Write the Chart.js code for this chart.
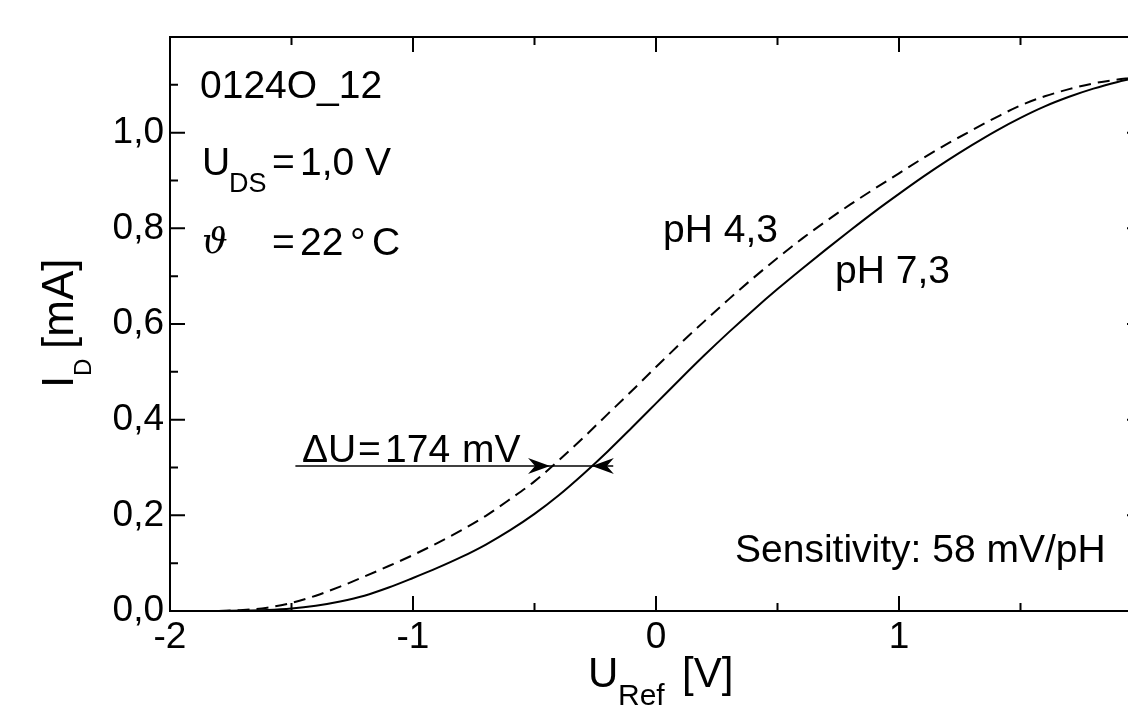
<!DOCTYPE html>
<html>
<head>
<meta charset="utf-8">
<script src="https://cdn.jsdelivr.net/npm/chart.js@4/dist/chart.umd.min.js"></script>
<style>
  html, body { margin: 0; padding: 0; background: #fff; overflow: hidden; }
  #wrap { width: 1160px; height: 705px; }
</style>
</head>
<body>
<div id="wrap"><canvas id="chart" width="1160" height="705"></canvas></div>
<script>
// U_Ref [V] sample points
const uRef = [-1.8, -1.7, -1.6, -1.5, -1.4, -1.3, -1.2, -1.1, -1.0, -0.9,
  -0.8, -0.7, -0.6, -0.5, -0.4, -0.3, -0.2, -0.1, 0.0, 0.1,
  0.2, 0.3, 0.4, 0.5, 0.6, 0.7, 0.8, 0.9, 1.0, 1.1,
  1.2, 1.3, 1.4, 1.5, 1.6, 1.7, 1.8, 1.9, 1.95];
// I_D [mA], pH 7,3 (solid)
const idPH73 = [0.000, 0.001, 0.002, 0.005, 0.011, 0.020, 0.032, 0.049, 0.069, 0.090,
  0.113, 0.139, 0.169, 0.203, 0.242, 0.286, 0.333, 0.383, 0.434, 0.485,
  0.535, 0.583, 0.629, 0.673, 0.715, 0.756, 0.796, 0.835, 0.872, 0.908,
  0.942, 0.974, 1.004, 1.031, 1.055, 1.075, 1.092, 1.106, 1.112];
// I_D [mA], pH 4,3 (dashed)
const idPH43 = [0.000, 0.002, 0.007, 0.017, 0.032, 0.051, 0.072, 0.094, 0.117, 0.142,
  0.169, 0.199, 0.234, 0.271, 0.315, 0.362, 0.411, 0.460, 0.510, 0.559,
  0.606, 0.652, 0.696, 0.738, 0.778, 0.815, 0.850, 0.883, 0.915, 0.947,
  0.977, 1.005, 1.032, 1.057, 1.076, 1.091, 1.103, 1.111, 1.114];

// axis ticks
const xMajor = [-2, -1, 0, 1, 2];
const xMinor = [-1.5, -0.5, 0.5, 1.5];
const yMajor = [0, 0.2, 0.4, 0.6, 0.8, 1.0, 1.2];
const yMinor = [0.1, 0.3, 0.5, 0.7, 0.9, 1.1];

// ΔU arrow (data coords)
const arrowY = 0.303;
const arrowStart = -1.484;
const arrowTips = [-0.436, -0.264];
const arrowEnd = -0.176;

const FONT = '"Liberation Sans", Arial, Helvetica, sans-serif';

function put(ctx, s, x, y, size, font) {
  ctx.font = (font || (size + 'px ' + FONT));
  ctx.fillText(s, x, y);
}

function arrowHead(ctx, tx, ty, dir) {
  // dir = 1 points right, -1 points left
  ctx.beginPath();
  ctx.moveTo(tx, ty);
  ctx.lineTo(tx - dir * 22, ty - 8);
  ctx.lineTo(tx - dir * 15, ty);
  ctx.lineTo(tx - dir * 22, ty + 8);
  ctx.closePath();
  ctx.fill();
}

const framePlugin = {
  id: 'frame',
  afterDraw(chart) {
    const ctx = chart.ctx;
    const a = chart.chartArea;
    const xs = chart.scales.x, ys = chart.scales.y;
    ctx.save();
    ctx.strokeStyle = '#000';
    ctx.fillStyle = '#000';
    ctx.lineWidth = 2;
    ctx.strokeRect(a.left, a.top, a.right - a.left, a.bottom - a.top);

    // inward ticks on all four sides
    ctx.beginPath();
    const tickX = (v, len) => {
      const px = xs.getPixelForValue(v);
      ctx.moveTo(px, a.bottom); ctx.lineTo(px, a.bottom - len);
      ctx.moveTo(px, a.top); ctx.lineTo(px, a.top + len);
    };
    const tickY = (v, len) => {
      const py = ys.getPixelForValue(v);
      ctx.moveTo(a.left, py); ctx.lineTo(a.left + len, py);
      ctx.moveTo(a.right, py); ctx.lineTo(a.right - len, py);
    };
    xMajor.forEach(v => tickX(v, 15));
    xMinor.forEach(v => tickX(v, 8));
    yMajor.forEach(v => tickY(v, 15));
    yMinor.forEach(v => tickY(v, 8));
    ctx.stroke();

    // ΔU arrow
    const ay = ys.getPixelForValue(arrowY);
    ctx.beginPath();
    ctx.lineWidth = 1.6;
    ctx.moveTo(xs.getPixelForValue(arrowStart), ay);
    ctx.lineTo(xs.getPixelForValue(arrowEnd), ay);
    ctx.stroke();
    arrowHead(ctx, xs.getPixelForValue(arrowTips[0]), ay, 1);
    arrowHead(ctx, xs.getPixelForValue(arrowTips[1]), ay, -1);

    // annotations
    ctx.textAlign = 'left';
    ctx.textBaseline = 'alphabetic';
    put(ctx, '0124O_12', 200, 98, 39);
    put(ctx, 'U', 202, 175, 39);
    put(ctx, 'DS', 229, 192, 27);
    put(ctx, '=', 272, 175, 39);
    put(ctx, '1,0 V', 300, 175, 39);
    put(ctx, 'ϑ', 202, 253, 0, 'italic 36px "DejaVu Serif", "Liberation Serif", serif');
    put(ctx, '=', 272, 255, 39);
    put(ctx, '22', 300, 255, 39);
    put(ctx, '°', 350, 255, 39);
    put(ctx, 'C', 372, 255, 39);
    put(ctx, 'pH 4,3', 663, 242, 39);
    put(ctx, 'pH 7,3', 835, 283, 39);
    put(ctx, 'Sensitivity: 58 mV/pH', 735, 562, 39);
    put(ctx, 'ΔU', 302, 462, 39);
    put(ctx, '=', 358, 462, 39);
    put(ctx, '174', 385, 462, 39);
    put(ctx, 'mV', 462, 462, 39);

    // axis titles
    put(ctx, 'U', 588, 687, 42);
    put(ctx, 'Ref', 618, 705, 30);
    put(ctx, '[V]', 682, 687, 42);

    ctx.translate(73, 388);
    ctx.rotate(-Math.PI / 2);
    put(ctx, 'I', 0, 0, 44);
    put(ctx, 'D', 12, 18, 24);
    put(ctx, '[mA]', 39, 0, 44);
    ctx.restore();
  }
};

Chart.defaults.color = '#000';
Chart.defaults.font.family = FONT;

const pts = (ys) => uRef.map((x, i) => ({ x: x, y: ys[i] }));

new Chart(document.getElementById('chart'), {
  type: 'line',
  data: {
    datasets: [
      {
        label: 'pH 7,3',
        data: pts(idPH73),
        borderColor: '#000',
        borderWidth: 2,
        pointRadius: 0,
        fill: false,
        cubicInterpolationMode: 'monotone'
      },
      {
        label: 'pH 4,3',
        data: pts(idPH43),
        borderColor: '#000',
        borderWidth: 2,
        borderDash: [12, 7],
        pointRadius: 0,
        fill: false,
        cubicInterpolationMode: 'monotone'
      }
    ]
  },
  options: {
    responsive: false,
    animation: false,
    layout: { padding: { top: 37, right: 18, left: 0, bottom: 0 } },
    plugins: { legend: { display: false }, tooltip: { enabled: false } },
    scales: {
      x: {
        type: 'linear',
        min: -2,
        max: 2,
        grid: { display: false, drawTicks: false },
        border: { display: false },
        ticks: {
          stepSize: 1,
          maxRotation: 0,
          padding: 5,
          font: { size: 37 },
          callback: (v) => (v >= 2 ? '' : String(v))
        },
        afterFit: (s) => { s.height = 94; }
      },
      y: {
        min: 0,
        max: 1.2,
        grid: { display: false, drawTicks: false },
        border: { display: false },
        ticks: {
          stepSize: 0.2,
          padding: 6,
          font: { size: 37 },
          callback: (v) => (v > 1.1 ? '' : v.toFixed(1).replace('.', ','))
        },
        afterFit: (s) => { s.width = 170; }
      }
    }
  },
  plugins: [framePlugin]
});
</script>
</body>
</html>
